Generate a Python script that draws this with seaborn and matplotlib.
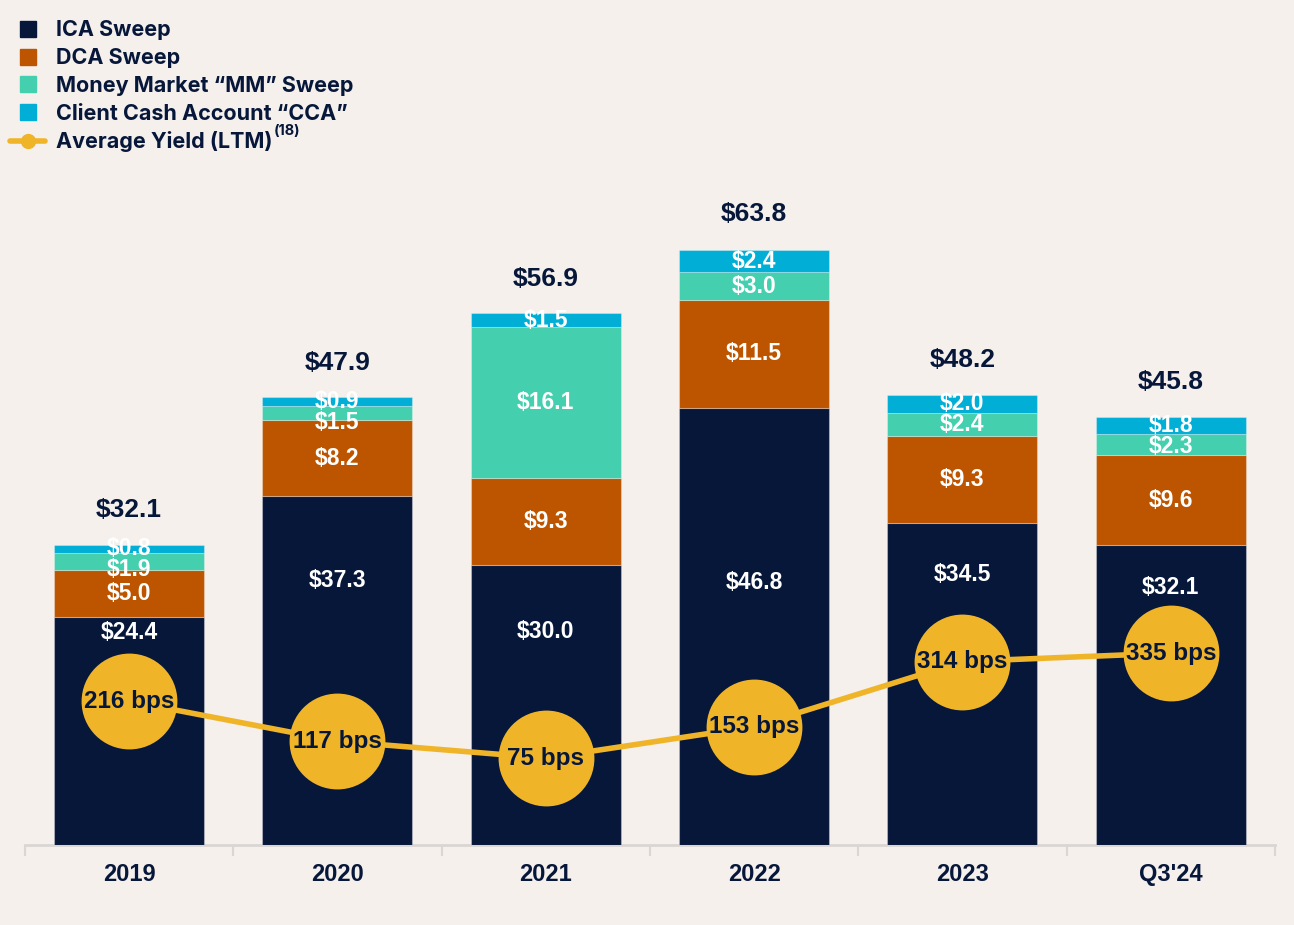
"""Cash sweep balances by program, with average yield"""

import numpy as np
import matplotlib
matplotlib.use("Agg")
from matplotlib import pyplot as plt
from matplotlib.lines import Line2D
import seaborn as sns

# data
years = ["2019", "2020", "2021", "2022", "2023", "Q3'24"]
ica = [24.4, 37.3, 30.0, 46.8, 34.5, 32.1]
dca = [5.0, 8.2, 9.3, 11.5, 9.3, 9.6]
mm = [1.9, 1.5, 16.1, 3.0, 2.4, 2.3]
cca = [0.8, 0.9, 1.5, 2.4, 2.0, 1.8]
totals = [32.1, 47.9, 56.9, 63.8, 48.2, 45.8]
yield_bps = [216, 117, 75, 153, 314, 335]

# where the ICA label sits inside its segment (fraction of segment height)
ica_label_frac = [0.93, 0.76, 0.76, 0.60, 0.84, 0.86]

NAVY = "#06173A"
ORANGE = "#BD5500"
GREEN = "#44CFAE"
CYAN = "#00AED6"
GOLD = "#F0B429"
BG = "#F5F0EC"

sns.set_theme(style="white")
plt.rcParams["font.family"] = ["Liberation Sans", "DejaVu Sans"]

fig = plt.figure(figsize=(12.94, 9.25), dpi=100, facecolor=BG)
ax = fig.add_axes([0.0193, 0.0865, 0.966, 0.7081])
ax.set_facecolor(BG)

series = [("ICA Sweep", ica, NAVY), ("DCA Sweep", dca, ORANGE),
          ("Money Market \u201cMM\u201d Sweep", mm, GREEN),
          ("Client Cash Account \u201cCCA\u201d", cca, CYAN)]

bottom = np.zeros(len(years))
edge = (1, 1, 1, 0.3)
for k, (name, vals, col) in enumerate(series):
    sns.barplot(x=years, y=vals, bottom=bottom, color=col, saturation=1,
                width=0.72, edgecolor=edge, linewidth=0.8, ax=ax, zorder=2)
    for i, v in enumerate(vals):
        if k == 0:
            y = bottom[i] + v * ica_label_frac[i]
        else:
            y = bottom[i] + v / 2
        if k == 2:
            # keep the thin MM label clear of the CCA label above it
            y = min(y, bottom[i] + v + cca[i] / 2 - 2.2)
        ax.text(i, y, f"${v:.1f}", ha="center", va="center",
                color="white", fontsize=16.5, fontweight="bold", zorder=4)
    bottom = bottom + np.array(vals)

for i, t in enumerate(totals):
    ax.annotate(f"${t:.1f}", (i, t), xytext=(0, 25), textcoords="offset points",
                ha="center", va="center", color=NAVY, fontsize=19,
                fontweight="bold")

ax.set_xlim(-0.5, len(years) - 0.5)
ax.set_ylim(0, 70.1)
ax.set_xlabel("")
ax.set_ylabel("")
ax.set_yticks([])
for s in ["top", "right", "left"]:
    ax.spines[s].set_visible(False)
ax.spines["bottom"].set_color("#D9D6D4")
ax.spines["bottom"].set_linewidth(2)
ax.spines["bottom"].set_zorder(1)
ax.set_xticks(range(len(years)))
ax.set_xticklabels(years, fontsize=17, fontweight="bold", color=NAVY)
ax.set_xticks(np.arange(-0.5, len(years), 1.0), minor=True)
ax.tick_params(axis="x", which="major", bottom=True, length=0, pad=13)
ax.tick_params(axis="x", which="minor", bottom=True, length=8, width=1.5,
               color="#D9D6D4", direction="out")

# yield line on its own scale
ax2 = ax.twinx()
sns.lineplot(x=np.arange(len(years)), y=yield_bps, ax=ax2, color=GOLD,
             linewidth=4, marker="o", markersize=69, markeredgewidth=0,
             zorder=3)
for i, b in enumerate(yield_bps):
    ax2.text(i, b, f"{b} bps", ha="center", va="center", color=NAVY,
             fontsize=17.5, fontweight="bold", zorder=5)
ax2.set_ylim(-140, 1481)
ax2.set_yticks([])
ax2.set_ylabel("")
for s in ax2.spines.values():
    s.set_visible(False)

# legend
handles = [Line2D([], [], linestyle="none", marker="s", markersize=11,
                  color=col) for _, _, col in series]
handles.append(Line2D([], [], color=GOLD, linewidth=4, marker="o",
                      markersize=10))
labels = [name for name, _, _ in series] + ["Average Yield (LTM)"]
leg = fig.legend(handles, labels, loc="upper left",
                 bbox_to_anchor=(-0.007, 0.999), frameon=False,
                 handlelength=1.6, handletextpad=0.5, labelspacing=0.36,
                 prop={"family": "Inter", "weight": "bold", "size": 15.5})
for t in leg.get_texts():
    t.set_color(NAVY)

# superscript note marker after the last legend entry
fig.canvas.draw()
bb = leg.get_texts()[-1].get_window_extent()
fig.text(bb.x1 / fig.bbox.width + 0.001, bb.y1 / fig.bbox.height + 0.008,
         "(18)", fontsize=10.5, fontweight="bold", color=NAVY,
         family="Inter", ha="left", va="top")

fig.savefig("out.png", dpi=100, facecolor=BG)
